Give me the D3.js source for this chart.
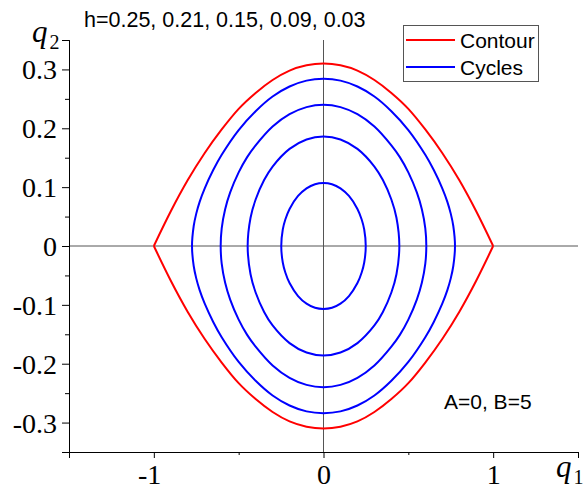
<!DOCTYPE html>
<html>
<head>
<meta charset="utf-8">
<script src="https://cdn.jsdelivr.net/npm/d3@7"></script>
<style>
  body { margin: 0; background: #fff; }
  svg { display: block; }
</style>
</head>
<body>
<script>
"use strict";

///////////////////
// data
///////////////////

// energy levels, contour first, then the cycles
var levels = [0.25, 0.21, 0.15, 0.09, 0.03];
var params = "A=0, B=5";

// one quarter of each curve (q1 >= 0, q2 >= 0), symmetric in both axes
var contourQ1 = [0, 0.1, 0.2, 0.3, 0.4, 0.5, 0.6, 0.7, 0.8, 0.9, 1.0];
var contourQ2 = [0.310, 0.307, 0.298, 0.282, 0.260, 0.233, 0.198, 0.158, 0.112, 0.059, 0];

var cycleH021 = [[0, 0.284], [0.1, 0.281], [0.2, 0.271], [0.3, 0.254], [0.4, 0.229], [0.5, 0.197],
                 [0.6, 0.155], [0.65, 0.129], [0.7, 0.098], [0.73, 0.075], [0.75, 0.055], [0.765, 0.034], [0.775, 0]];
var cycleH015 = [[0, 0.240], [0.1, 0.236], [0.2, 0.224], [0.3, 0.203], [0.4, 0.171], [0.45, 0.151],
                 [0.5, 0.125], [0.55, 0.091], [0.58, 0.062], [0.6, 0.030], [0.606, 0]];
var cycleH009 = [[0, 0.186], [0.1, 0.181], [0.2, 0.165], [0.3, 0.135], [0.35, 0.112], [0.4, 0.079],
                 [0.43, 0.048], [0.447, 0]];
var cycleH003 = [[0, 0.107], [0.05, 0.105], [0.1, 0.098], [0.15, 0.085], [0.2, 0.063], [0.225, 0.045],
                 [0.24, 0.028], [0.249, 0]];
var cycles = [cycleH021, cycleH015, cycleH009, cycleH003];

// ticks
var xMajor = [-1, 0, 1];
var xMinor = [-1.5, -0.5, 0.5, 1.5];
var yMajor = [-0.3, -0.2, -0.1, 0, 0.1, 0.2, 0.3];
var yMinor = [-0.35, -0.25, -0.15, -0.05, 0.05, 0.15, 0.25, 0.35];

var legendItems = [{ "name": "Contour", "color": "#ff0000" }, { "name": "Cycles", "color": "#0000ff" }];

///////////////////
// helpers
///////////////////

// quarter -> closed loop going round all four quadrants
function fullLoop(q) {
    var n = q.length, pts = [], i;
    for (i = 0; i < n; i++) pts.push([q[i][0], q[i][1]]);
    for (i = n - 2; i >= 0; i--) pts.push([q[i][0], -q[i][1]]);
    for (i = 1; i < n; i++) pts.push([-q[i][0], -q[i][1]]);
    for (i = n - 2; i >= 1; i--) pts.push([-q[i][0], q[i][1]]);
    return pts;
}

// left-to-right half of the contour, sign = +1 upper, -1 lower
function contourHalf(sign) {
    var pts = [], i;
    for (i = contourQ1.length - 1; i >= 1; i--) pts.push([-contourQ1[i], sign * contourQ2[i]]);
    for (i = 0; i < contourQ1.length; i++) pts.push([contourQ1[i], sign * contourQ2[i]]);
    return pts;
}

(function() {

    var W = 584, H = 490;
    var margin = { top: 40, right: 6, bottom: 38, left: 69 };

    var x = d3.scaleLinear().domain([-1.5, 1.5]).range([margin.left, W - margin.right]);
    var y = d3.scaleLinear().domain([-0.35, 0.35]).range([H - margin.bottom, margin.top]);

    var svg = d3.select("body").append("svg")
        .attr("width", W)
        .attr("height", H);

    var serif = "'Liberation Serif', 'Times New Roman', serif";
    var sans = "'Liberation Sans', Arial, sans-serif";

    // inner axes through origin
    svg.append("line")
        .attr("x1", x(-1.5)).attr("x2", x(1.5))
        .attr("y1", y(0)).attr("y2", y(0))
        .attr("stroke", "#555").attr("stroke-width", 1);
    svg.append("line")
        .attr("x1", x(0)).attr("x2", x(0))
        .attr("y1", y(0.35)).attr("y2", y(-0.35))
        .attr("stroke", "#555").attr("stroke-width", 1);

    // curves
    var line = d3.line()
        .x(function(d) { return x(d[0]); })
        .y(function(d) { return y(d[1]); });

    svg.selectAll("path.cycle")
        .data(cycles)
        .enter()
        .append("path")
        .attr("class", "cycle")
        .attr("d", function(d) { return line.curve(d3.curveCatmullRomClosed)(fullLoop(d)); })
        .attr("fill", "none")
        .attr("stroke", "#0000ff")
        .attr("stroke-width", 2);

    svg.selectAll("path.contour")
        .data([1, -1])
        .enter()
        .append("path")
        .attr("class", "contour")
        .attr("d", function(s) { return line.curve(d3.curveMonotoneX)(contourHalf(s)); })
        .attr("fill", "none")
        .attr("stroke", "#ff0000")
        .attr("stroke-width", 2);

    // left axis
    var yAxis = svg.append("g").attr("transform", "translate(" + x(-1.5) + ",0)");
    yAxis.call(d3.axisLeft(y).tickValues(yMinor).tickSize(4).tickFormat(""));
    yAxis.call(function(g) {
        g.append("g").call(d3.axisLeft(y).tickValues(yMajor).tickSize(7).tickPadding(5)
            .tickFormat(function(d) { return d3.format(".1~f")(d).replace("−", "-"); }));
    });
    yAxis.selectAll(".domain").attr("stroke", "#000");
    yAxis.selectAll("line").attr("stroke", "#000");
    yAxis.selectAll("text")
        .style("font-family", serif)
        .style("font-size", "28px")
        .attr("fill", "#000")
        .attr("dy", "0.34em");

    // bottom axis
    var xAxis = svg.append("g").attr("transform", "translate(0," + y(-0.35) + ")");
    xAxis.call(d3.axisBottom(x).tickValues(xMinor).tickSize(3).tickFormat(""));
    xAxis.call(function(g) {
        g.append("g").call(d3.axisBottom(x).tickValues(xMajor).tickSize(6).tickPadding(6)
            .tickFormat(function(d) { return String(d); }));
    });
    xAxis.selectAll("line").attr("stroke", "#000");
    xAxis.selectAll(".domain").attr("stroke", "#000");
    xAxis.selectAll("text")
        .style("font-family", serif)
        .style("font-size", "28px")
        .attr("fill", "#000")
        .attr("text-anchor", "end")
        .attr("x", 7);

    // axis names
    var q2 = svg.append("text")
        .attr("x", 32).attr("y", 42)
        .style("font-family", serif).style("font-size", "31px").style("font-style", "italic");
    q2.append("tspan").text("q");
    q2.append("tspan").attr("dx", 2).attr("dy", 7).style("font-size", "20px").style("font-style", "normal").text("2");

    var q1 = svg.append("text")
        .attr("x", 556).attr("y", 477)
        .style("font-family", serif).style("font-size", "31px").style("font-style", "italic");
    q1.append("tspan").text("q");
    q1.append("tspan").attr("dx", 2).attr("dy", 7).style("font-size", "20px").style("font-style", "normal").text("1");

    // title with levels
    svg.append("text")
        .attr("x", 84).attr("y", 27)
        .style("font-family", sans).style("font-size", "21.5px")
        .text("h=" + levels.map(function(d) { return d3.format(".2f")(d); }).join(", "));

    svg.append("text")
        .attr("x", 444).attr("y", 409)
        .style("font-family", sans).style("font-size", "21px")
        .text(params);

    // legend
    var legend = svg.append("g").attr("transform", "translate(403,25)");
    legend.append("rect")
        .attr("x", 0.5).attr("y", 0.5)
        .attr("width", 135).attr("height", 56)
        .attr("fill", "#fff").attr("stroke", "#555");
    var li = legend.selectAll("g.item")
        .data(legendItems)
        .enter()
        .append("g")
        .attr("class", "item")
        .attr("transform", function(d, i) { return "translate(0," + (15 + i * 27) + ")"; });
    li.append("line")
        .attr("x1", 3).attr("x2", 52)
        .attr("stroke", function(d) { return d.color; })
        .attr("stroke-width", 2);
    li.append("text")
        .attr("x", 57).attr("y", 8)
        .style("font-family", sans).style("font-size", "21px")
        .text(function(d) { return d.name; });

})();
</script>
</body>
</html>
